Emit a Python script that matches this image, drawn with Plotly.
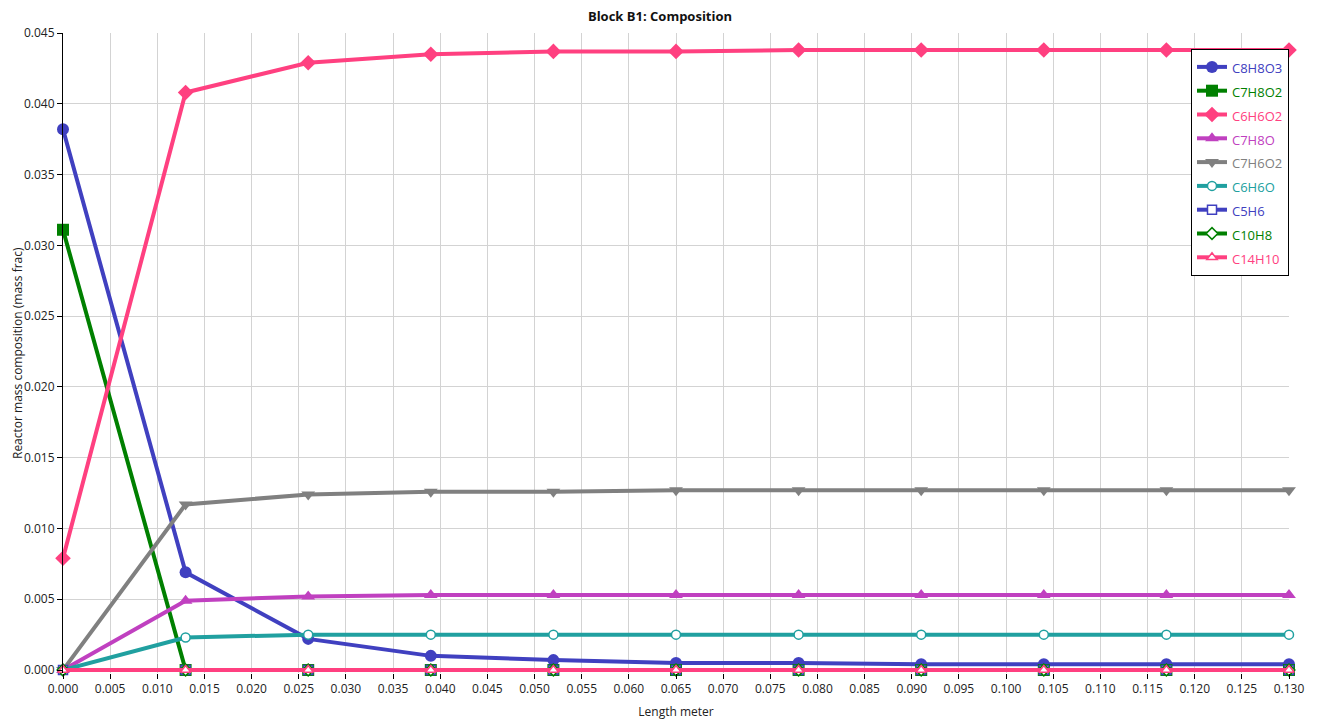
import plotly.graph_objects as go

length_m = [0.000, 0.013, 0.026, 0.039, 0.052, 0.065, 0.078, 0.091, 0.104, 0.117, 0.130]

C8H8O3 = [0.0382, 0.0069, 0.0022, 0.0010, 0.0007, 0.0005, 0.0005, 0.0004, 0.0004, 0.0004, 0.0004]
C7H8O2 = [0.0311, 0.0, 0.0, 0.0, 0.0, 0.0, 0.0, 0.0, 0.0, 0.0, 0.0]
C6H6O2 = [0.0079, 0.0408, 0.0429, 0.0435, 0.0437, 0.0437, 0.0438, 0.0438, 0.0438, 0.0438, 0.0438]
C7H8O = [0.0, 0.0049, 0.0052, 0.0053, 0.0053, 0.0053, 0.0053, 0.0053, 0.0053, 0.0053, 0.0053]
C7H6O2 = [0.0, 0.0117, 0.0124, 0.0126, 0.0126, 0.0127, 0.0127, 0.0127, 0.0127, 0.0127, 0.0127]
C6H6O = [0.0, 0.0023, 0.0025, 0.0025, 0.0025, 0.0025, 0.0025, 0.0025, 0.0025, 0.0025, 0.0025]
C5H6 = [0.0] * 11
C10H8 = [0.0] * 11
C14H10 = [0.0] * 11

y_ticks = [0.000, 0.005, 0.010, 0.015, 0.020, 0.025, 0.030, 0.035, 0.040, 0.045]

series = [
    ("C8H8O3", C8H8O3, "#4040C0", "circle", None),
    ("C7H8O2", C7H8O2, "#008000", "square", None),
    ("C6H6O2", C6H6O2, "#FF4080", "diamond", None),
    ("C7H8O", C7H8O, "#C040C0", "triangle-up", None),
    ("C7H6O2", C7H6O2, "#808080", "triangle-down", None),
    ("C6H6O", C6H6O, "#20A0A0", "circle", "open"),
    ("C5H6", C5H6, "#4040C0", "square", "open"),
    ("C10H8", C10H8, "#008000", "diamond", "open"),
    ("C14H10", C14H10, "#FF4080", "triangle-up", "open"),
]

fig = go.Figure()
for name, vals, color, sym, style in series:
    if style == "open":
        marker = dict(symbol=sym, size=9, color="white", line=dict(color=color, width=1.5))
    else:
        marker = dict(symbol=sym, size=12, color=color, line=dict(color=color, width=0))
    label = f"<span style='color:{color};font-size:13px'>{name}</span>"
    fig.add_trace(go.Scatter(
        x=length_m, y=vals, name=label, mode="lines+markers",
        line=dict(color=color, width=4), marker=marker, cliponaxis=False,
    ))

font_family = "Open Sans, Noto Sans, sans-serif"
fig.update_layout(
    width=1320, height=726,
    margin=dict(l=63, r=31, t=33, b=53, autoexpand=False),
    paper_bgcolor="white", plot_bgcolor="white",
    font=dict(family=font_family, size=12, color="#222222"),
    title=dict(text="<b>Block B1: Composition</b>", x=0.5, xanchor="center", y=0.978, yanchor="middle",
               font=dict(size=13, color="#111111")),
    showlegend=True,
    legend=dict(
        x=1.0, y=0.975, xanchor="right", yanchor="top",
        bordercolor="black", borderwidth=1, bgcolor="white",
        font=dict(size=16),
        tracegroupgap=0, itemwidth=30,
    ),
    annotations=[dict(
        text="Reactor mass composition (mass frac)", textangle=-90,
        xref="paper", yref="paper", x=-0.0375, y=0.5, xanchor="center", yanchor="middle",
        showarrow=False, font=dict(size=12, color="#222222"),
    )],
)

fig.update_xaxes(
    range=[0, 0.130], dtick=0.005, tick0=0, tickformat=".3f",
    showgrid=True, gridcolor="#D3D3D3", gridwidth=1,
    showline=False, automargin=False,
    ticks="outside", ticklen=5, tickcolor="black",
    zeroline=False,
    title=dict(text="Length meter", font=dict(size=12), standoff=11),
    tickfont=dict(size=12),
)
fig.update_yaxes(
    range=[-0.00021, 0.045], tickvals=y_ticks, tickformat=".3f",
    showgrid=True, gridcolor="#D3D3D3", gridwidth=1,
    showline=True, linecolor="black", linewidth=1, automargin=False,
    ticks="outside", ticklen=5, tickcolor="black",
    zeroline=True, zerolinecolor="black", zerolinewidth=1,
    tickfont=dict(size=12),
)

fig.write_html("out.html")
